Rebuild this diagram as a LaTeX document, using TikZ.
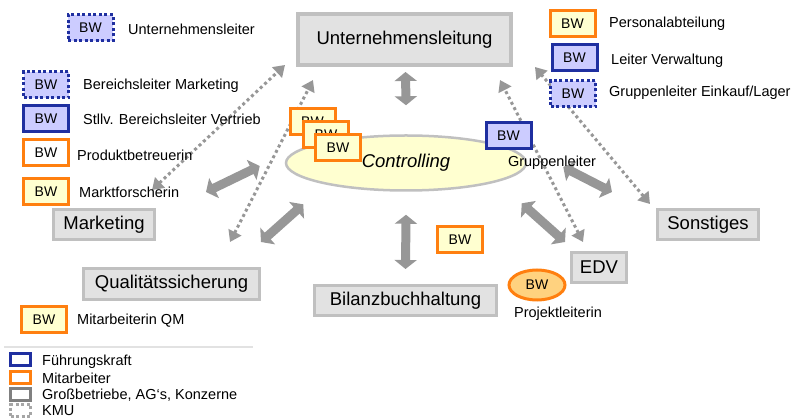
\documentclass[tikz,border=0pt]{standalone}
\usepackage{fontspec}
\setmainfont{Liberation Sans}
\usetikzlibrary{arrows.meta}
\usetikzlibrary{shapes}
\definecolor{deptfill}{HTML}{E2E2E2}
\definecolor{deptline}{HTML}{C0C0C0}
\definecolor{chefblue}{HTML}{1F2FA0}
\definecolor{cheffill}{HTML}{CCCCFF}
\definecolor{staffor}{HTML}{FF7F0F}
\definecolor{staffyel}{HTML}{FFFFD0}
\definecolor{pjfill}{HTML}{FFD27F}
\definecolor{arrowgray}{HTML}{979797}
\tikzset{dept/.style={draw=deptline, line width=3pt, fill=deptfill, inner sep=0pt, font=\fontsize{18.5}{22}\selectfont}}
\tikzset{bw/.style={line width=3pt, minimum width=45pt, minimum height=26pt, inner sep=0pt, font=\fontsize{14}{16}\selectfont}}
\tikzset{chef/.style={bw, draw=chefblue, fill=cheffill}}
\tikzset{chefkmu/.style={chef, dash pattern=on 3pt off 2.5pt}}
\tikzset{staff/.style={bw, draw=staffor, fill=staffyel}}
\tikzset{lbl/.style={anchor=west, inner sep=0pt, font=\fontsize{14.5}{17}\selectfont}}
\tikzset{legbox/.style={line width=3pt, minimum width=20pt, minimum height=12pt, inner sep=0pt, fill=white}}
\tikzset{bigarrow/.style={draw=arrowgray, line width=9pt, {Triangle[length=9pt,width=22pt]}-{Triangle[length=9pt,width=22pt]}}}
\tikzset{dotarrow/.style={draw=arrowgray, line width=3pt, dash pattern=on 3pt off 3pt, {Triangle[length=11pt,width=14pt]}-{Triangle[length=11pt,width=14pt]}}}

\begin{document}
\begin{tikzpicture}[x=1pt,y=-1pt]
\useasboundingbox (0,0) rectangle (793,419);

%departments
\node[dept,line width=4pt,minimum width=213pt,minimum height=51pt] (uleit) at (404.5,39.5) {Unternehmensleitung};
\node[dept,minimum width=101pt,minimum height=30pt] (mkt) at (104,224.5) {Marketing};
\node[dept,minimum width=176pt,minimum height=31pt] (qs) at (171.5,284) {Qualitätssicherung};
\node[dept,minimum width=182pt,minimum height=30pt] (bil) at (405.5,300.5) {Bilanzbuchhaltung};
\node[dept,minimum width=55pt,minimum height=30pt] (edv) at (599,267.5) {EDV};
\node[dept,minimum width=101pt,minimum height=30pt] (son) at (708,224.5) {Sonstiges};

%controlling
\node[ellipse,draw=deptline,line width=2.5pt,fill=staffyel,minimum width=240pt,minimum height=55pt,inner sep=0pt,font=\fontsize{18.5}{22}\selectfont\itshape] (ctrl) at (406,163) {Controlling};

%arrows
\draw[bigarrow] ([xshift=1pt,yshift=-5pt]uleit.south) -- ([yshift=29pt]ctrl.north);
\draw[bigarrow] ([xshift=50pt,yshift=16pt]mkt.north east) -- ([xshift=-25pt,yshift=-3pt]ctrl.west);
\draw[bigarrow] ([yshift=25pt]qs.north east) -- ([xshift=-17pt,yshift=-21pt]ctrl.south west);
\draw[bigarrow] ([yshift=-23pt]ctrl.south) -- ([yshift=15pt]bil.north);
\draw[bigarrow] ([xshift=30pt,yshift=-20pt]ctrl.south east) -- ([xshift=-5pt,yshift=9pt]edv.north west);
\draw[bigarrow] ([xshift=36pt,yshift=-4pt]ctrl.east) -- ([xshift=-44pt,yshift=16pt]son.north west);
\draw[dotarrow] ([xshift=48pt,yshift=18pt]mkt.north) -- ([xshift=-11pt,yshift=2pt]uleit.south west);
\draw[dotarrow] ([xshift=58.5pt,yshift=25pt]qs.north) -- ([xshift=17pt,yshift=-13pt]uleit.south west);
\draw[dotarrow] ([xshift=-16pt,yshift=9pt]edv.north) -- ([xshift=-13pt,yshift=-13pt]uleit.south east);
\draw[dotarrow] ([xshift=-6pt,yshift=4pt]son.north west) -- ([xshift=22pt,yshift=-27.5pt]uleit.east);

%controlling staff
\node[staff] (cbw1) at (312.5,122) {BW};
\node[staff] (cbw2) at (326,134.5) {BW};
\node[staff] (cbw3) at (338,147.5) {BW};
\node[chef] (gbw) at (508.5,135.5) {BW};
\node[lbl,anchor=center] (gl) at (552,163) {Gruppenleiter};

%top left
\node[chefkmu] (ubw) at (90.5,28) {BW};
\node[lbl] (ut) at (128,29) {Unternehmensleiter};
\node[chefkmu] (mbw1) at (46,85) {BW};
\node[lbl] (mt1) at (83,86) {Bereichsleiter Marketing};
\node[chef] (mbw2) at (46,118.5) {BW};
\node[lbl] (mt2) at (83,119) {Stllv. Bereichsleiter Vertrieb};
\node[staff,fill=white] (mbw3) at (46,153) {BW};
\node[lbl] (mt3) at (77,155) {Produktbetreuerin};
\node[staff] (mbw4) at (46,191.5) {BW};
\node[lbl] (mt4) at (79,192) {Marktforscherin};

%qs
\node[staff] (qbw) at (44,319.5) {BW};
\node[lbl] (qt) at (77,321) {Mitarbeiterin QM};

%top right
\node[staff] (pbw) at (572.5,24) {BW};
\node[lbl] (pt) at (609,24) {Personalabteilung};
\node[chef] (vbw) at (574.5,58) {BW};
\node[lbl] (vt) at (611,61) {Leiter Verwaltung};
\node[chefkmu] (ebw) at (573,94) {BW};
\node[lbl] (et) at (609,93) {Gruppenleiter Einkauf/Lager};

%bilanz, edv
\node[staff] (bbw) at (460,239.5) {BW};
\node[ellipse,draw=staffor,line width=3pt,fill=pjfill,minimum width=56pt,minimum height=30pt,inner sep=0pt,font=\fontsize{14}{16}\selectfont] (pbw2) at (537,285) {BW};
\node[lbl,anchor=center] (pjt) at (558,314) {Projektleiterin};

%legend
\draw[draw=deptfill,line width=1.5pt] (4,347) -- (253,347);
\node[legbox,draw=chefblue] (lg1) at (20.5,360) {};
\node[lbl] (lt1) at (42,362) {Führungskraft};
\node[legbox,draw=staffor] (lg2) at (20.5,378) {};
\node[lbl] (lt2) at (42,378) {Mitarbeiter};
\node[legbox,draw=gray] (lg3) at (20.5,395) {};
\node[lbl] (lt3) at (42,395) {Großbetriebe, AG‘s, Konzerne};
\node[legbox,draw=gray!70,dash pattern=on 3pt off 2.5pt] (lg4) at (20.5,411) {};
\node[lbl] (lt4) at (42,410.5) {KMU};

\end{tikzpicture}
\end{document}
